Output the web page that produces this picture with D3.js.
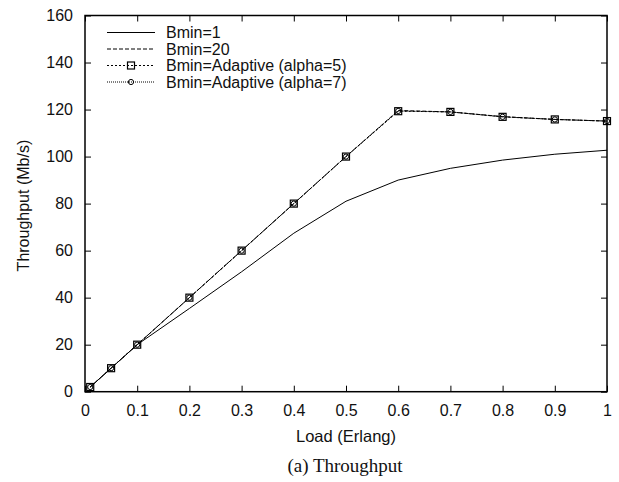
<!DOCTYPE html>
<html>
<head>
<meta charset="utf-8">
<script src="https://cdn.jsdelivr.net/npm/d3@7"></script>
<style>
  html, body { margin: 0; padding: 0; background: #fff; }
  svg { display: block; }
</style>
</head>
<body>
<svg id="chart" width="619" height="482"></svg>
<script>
// Throughput vs load, four Bmin variants (gnuplot-style figure)
const loads = [0.01, 0.05, 0.1, 0.2, 0.3, 0.4, 0.5, 0.6, 0.7, 0.8, 0.9, 1.0];
const bmin1 = [2, 10, 20, 35.4, 51, 67.4, 81, 90, 95, 98.5, 101, 102.7];
const bmin20 = [2, 10, 20, 40, 60, 80, 100, 119.6, 119, 117, 115.8, 115.1];
const adaptive5 = [2, 10, 20, 40, 60, 80, 100, 119.3, 119, 116.9, 115.8, 115.1];
const adaptive7 = [2, 10, 20, 40, 60, 80, 100, 119.4, 119, 116.9, 115.8, 115.1];
const xTicks = [0, 0.1, 0.2, 0.3, 0.4, 0.5, 0.6, 0.7, 0.8, 0.9, 1];
const yTicks = [0, 20, 40, 60, 80, 100, 120, 140, 160];

const series = [
  { name: 'Bmin=1', values: bmin1, dash: null, marker: null },
  { name: 'Bmin=20', values: bmin20, dash: '4,2', marker: null },
  { name: 'Bmin=Adaptive (alpha=5)', values: adaptive5, dash: '2,2', marker: 'square' },
  { name: 'Bmin=Adaptive (alpha=7)', values: adaptive7, dash: '1,1', marker: 'circle' },
];

const SANS = '"Liberation Sans", Arial, Helvetica, sans-serif';
const SERIF = '"Liberation Serif", "Times New Roman", serif';
const LEFT = 85, RIGHT = 607, TOP = 15.5, BOTTOM = 391.7;
const TICK = 6;
const FONT = 16;

const svg = d3.select('#chart');
const x = d3.scaleLinear().domain([0, 1]).range([LEFT, RIGHT]);
const y = d3.scaleLinear().domain([0, 160]).range([BOTTOM, TOP]);

// inward ticks on all four sides (gnuplot mirror)
svg.append('g').attr('transform', `translate(0,${BOTTOM})`)
  .call(d3.axisBottom(x).tickValues(xTicks).tickSizeInner(-TICK).tickSizeOuter(0).tickPadding(13).tickFormat(d => String(d)));
svg.append('g').attr('transform', `translate(0,${TOP})`)
  .call(d3.axisTop(x).tickValues(xTicks).tickSizeInner(-TICK).tickSizeOuter(0).tickFormat(''));
svg.append('g').attr('transform', `translate(${LEFT},0)`)
  .call(d3.axisLeft(y).tickValues(yTicks).tickSizeInner(-TICK).tickSizeOuter(0).tickPadding(12));
svg.append('g').attr('transform', `translate(${RIGHT},0)`)
  .call(d3.axisRight(y).tickValues(yTicks).tickSizeInner(-TICK).tickSizeOuter(0).tickFormat(''));

svg.selectAll('.domain').remove();
svg.selectAll('.tick line').attr('stroke', '#000').attr('stroke-width', 1);
svg.selectAll('.tick text').attr('font-family', SANS).attr('font-size', FONT).attr('fill', '#111');

// frame
svg.append('rect').attr('x', LEFT).attr('y', TOP)
  .attr('width', RIGHT - LEFT).attr('height', BOTTOM - TOP)
  .attr('fill', 'none').attr('stroke', '#000').attr('stroke-width', 1.5);

// lines
const line = d3.line().x((d, i) => x(loads[i])).y(d => y(d));
series.forEach(s => {
  svg.append('path').datum(s.values)
    .attr('d', line).attr('fill', 'none').attr('stroke', '#000').attr('stroke-width', 1)
    .attr('stroke-dasharray', s.dash);
});

function drawMarker(g, kind, cx, cy) {
  if (kind === 'square') {
    g.append('rect').attr('x', cx - 3.5).attr('y', cy - 3.5).attr('width', 7).attr('height', 7)
      .attr('fill', 'none').attr('stroke', '#000').attr('stroke-width', 1.2);
  } else if (kind === 'circle') {
    g.append('circle').attr('cx', cx).attr('cy', cy).attr('r', 2.6)
      .attr('fill', 'none').attr('stroke', '#000').attr('stroke-width', 1);
  }
}

const markers = svg.append('g');
series.filter(s => s.marker).forEach(s => {
  s.values.forEach((v, i) => drawMarker(markers, s.marker, x(loads[i]), y(v)));
});

// legend
const legend = svg.append('g');
series.forEach((s, i) => {
  const ly = 32.5 + i * 16.5;
  legend.append('line').attr('x1', 107).attr('x2', 155).attr('y1', ly).attr('y2', ly)
    .attr('stroke', '#000').attr('stroke-width', 1).attr('stroke-dasharray', s.dash);
  if (s.marker) drawMarker(legend, s.marker, 131, ly);
  legend.append('text').attr('x', 166).attr('y', ly + 5.6)
    .attr('font-family', SANS).attr('font-size', FONT).attr('fill', '#111').text(s.name);
});

// axis titles and caption
svg.append('text').attr('x', (LEFT + RIGHT) / 2).attr('y', 442)
  .attr('text-anchor', 'middle').attr('font-family', SANS).attr('font-size', 16.5).attr('fill', '#111')
  .text('Load (Erlang)');
svg.append('text').attr('transform', `translate(28.5,${(TOP + BOTTOM) / 2 + 2}) rotate(-90)`)
  .attr('text-anchor', 'middle').attr('font-family', SANS).attr('font-size', FONT).attr('fill', '#111')
  .text('Throughput (Mb/s)');
svg.append('text').attr('x', (LEFT + RIGHT) / 2 - 1).attr('y', 472)
  .attr('text-anchor', 'middle').attr('font-family', SERIF).attr('font-size', 19).attr('fill', '#111')
  .text('(a) Throughput');
</script>
</body>
</html>
